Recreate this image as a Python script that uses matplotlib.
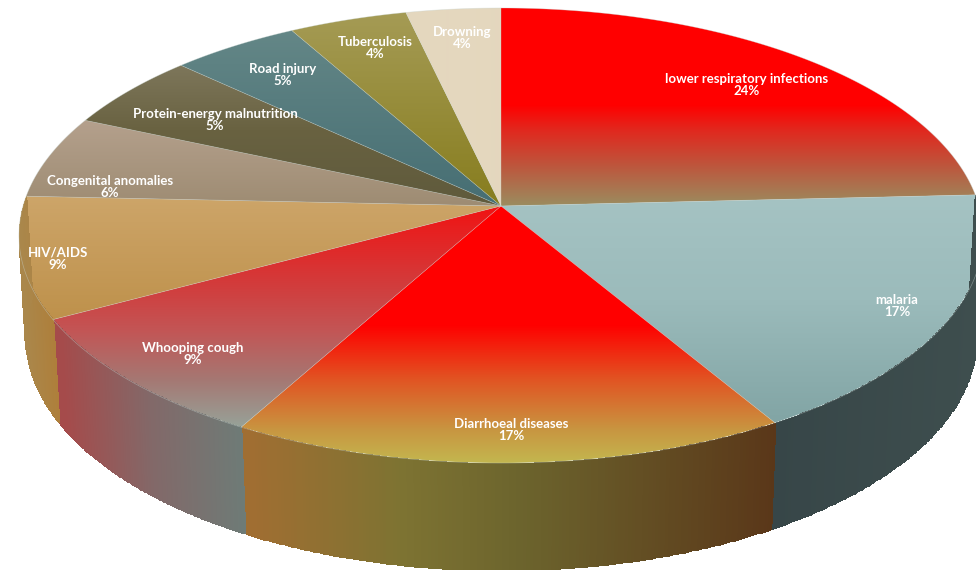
import numpy as np
import matplotlib
matplotlib.use("Agg")
import matplotlib.pyplot as plt
from matplotlib.patches import Polygon

# chart data
categories = ["lower respiratory infections", "malaria", "Diarrhoeal diseases", "Whooping cough",
              "HIV/AIDS", "Congenital anomalies", "Protein-energy malnutrition", "Road injury",
              "Tuberculosis", "Drowning"]
values = [24.2, 17.3, 16.5, 9.1, 8.6, 5.9, 5.4, 4.9, 4.5, 3.6]
pct_labels = ["24%", "17%", "17%", "9%", "9%", "6%", "5%", "5%", "4%", "4%"]

# label centres in pixels
label_pos = [(747, 85), (897, 306), (511, 430), (193, 354), (58, 259),
             (110, 187), (215, 120), (283, 75), (375, 48), (462, 38)]

# top surface gradients: (y pixel, rgb)
top_stops = [
    [(0, (255, 0, 0)), (105, (255, 0, 0)), (130, (225, 40, 30)), (165, (190, 85, 60)), (205, (155, 140, 95))],
    [(197, (165, 195, 195)), (300, (155, 187, 187)), (420, (130, 165, 165))],
    [(207, (255, 0, 0)), (325, (255, 0, 0)), (380, (225, 85, 35)), (430, (200, 150, 65)), (465, (195, 185, 80))],
    [(207, (240, 20, 20)), (285, (210, 60, 60)), (330, (195, 85, 85)), (380, (165, 120, 115)), (430, (150, 165, 155))],
    [(197, (205, 165, 105)), (320, (190, 145, 75))],
    [(122, (180, 160, 140)), (205, (158, 140, 115))],
    [(67, (125, 118, 90)), (130, (105, 98, 65)), (205, (95, 90, 60))],
    [(29, (100, 135, 135)), (205, (70, 110, 115))],
    [(13, (165, 155, 85)), (205, (135, 125, 30))],
    [(8, (228, 215, 190)), (205, (228, 215, 190))],
]

# side wall gradients: (x pixel, rgb), only the front slices show a wall
wall_stops = {
    1: [(775, (55, 70, 72)), (976, (62, 78, 78))],
    2: [(250, (160, 110, 50)), (400, (125, 115, 50)), (520, (108, 100, 45)), (775, (90, 55, 25))],
    3: [(60, (165, 75, 75)), (150, (130, 105, 105)), (250, (108, 125, 120))],
    4: [(20, (170, 135, 75)), (60, (175, 125, 55))],
}

# perspective of the disc
cx, cy = 501, 206
RX, RY, K = 478, 223.7, 0.1297


def rim(theta):
    # clockwise from the top of the pie, returns pixel coordinates
    u, v = np.sin(theta), np.cos(theta)
    w = 1 + K * v
    return cx + RX * u / w, cy - RY * v / w


def lower(x, y):
    # matching point on the bottom edge of the wall
    return cx + (x - cx) * 0.987, y + 103 + 0.03 * (y - 322)


def ramp(stops, pos):
    p = [s[0] for s in stops]
    rgb = np.array([s[1] for s in stops], dtype=float) / 255
    return np.stack([np.interp(pos, p, rgb[:, i]) for i in range(3)], axis=-1)


fig = plt.figure(figsize=(9.76, 5.70), dpi=100)
ax = fig.add_axes([0, 0, 1, 1])

edges = 2 * np.pi * np.concatenate([[0], np.cumsum(values)]) / np.sum(values)

# walls first, the top surface covers whatever sits behind it
for i, stops in wall_stops.items():
    t = np.linspace(edges[i], edges[i + 1], 160)
    x0, y0 = rim(t)
    x1, y1 = lower(x0, y0)
    X = np.stack([x0, x1])
    Y = np.stack([y0, y1])
    C = ramp(stops, (x0[:-1] + x0[1:]) / 2)[None, :, :]
    ax.pcolormesh(X, Y, C, shading="flat", edgecolors="face", linewidth=0.4, rasterized=True)

# top surface, one clipped gradient per slice
ys = np.arange(0, 571)
for i, stops in enumerate(top_stops):
    t = np.linspace(edges[i], edges[i + 1], 120)
    x0, y0 = rim(t)
    verts = np.column_stack([np.r_[cx, x0], np.r_[cy, y0]])
    poly = Polygon(verts, closed=True, facecolor="none", edgecolor="none")
    ax.add_patch(poly)
    img = ax.imshow(ramp(stops, ys)[:, None, :], extent=(0, 976, 570.5, -0.5), aspect="auto",
                    interpolation="bilinear")
    img.set_clip_path(poly)
    # faint seam between slices
    ax.plot(verts[:, 0], verts[:, 1], color="#c9d6d2", lw=0.5, alpha=0.45)

for name, pct, (lx, ly) in zip(categories, pct_labels, label_pos):
    ax.text(lx, ly, name + "\n" + pct, color="white", fontsize=9.5, fontweight="bold",
            family="Lato", ha="center", va="center", linespacing=1.05)

ax.set_xlim(0, 976)
ax.set_ylim(570, 0)
ax.axis("off")

fig.savefig("out.png", dpi=100, facecolor="white")
